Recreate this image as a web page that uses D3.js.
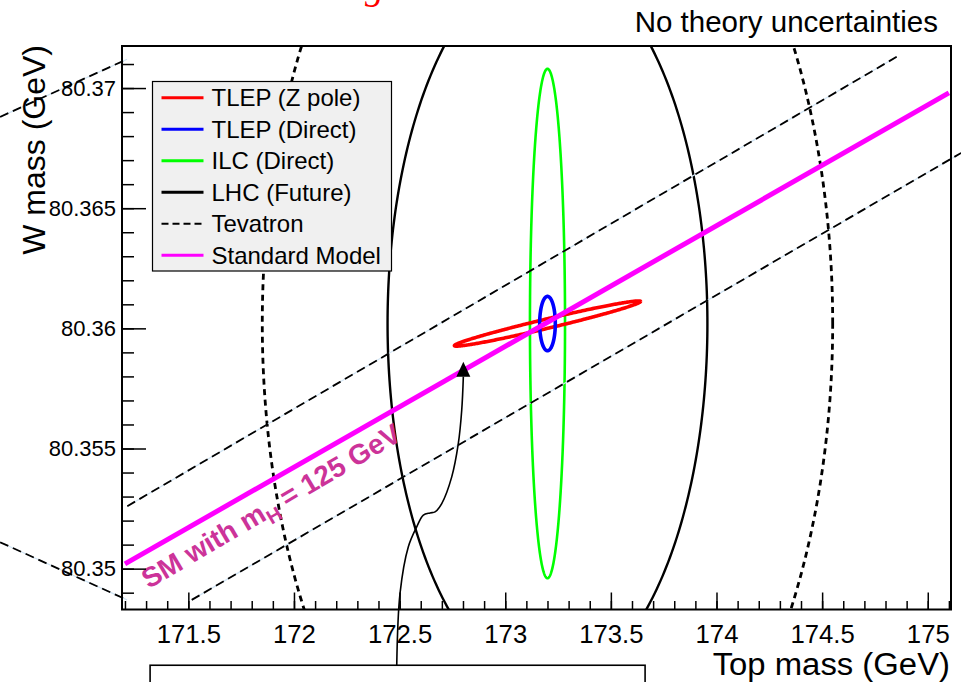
<!DOCTYPE html>
<html>
<head>
<meta charset="utf-8">
<script src="https://cdn.jsdelivr.net/npm/d3@7"></script>
<style>
  body { margin: 0; background: #fff; }
  svg { display: block; }
  text { font-family: "Liberation Sans", Arial, Helvetica, sans-serif; }
</style>
</head>
<body>
<svg id="chart" width="961" height="682"></svg>
<script>
// ---- axis ticks ----
const xMajorTicks = [171.5, 172, 172.5, 173, 173.5, 174, 174.5, 175];
const xTickLabels = ["171.5", "172", "172.5", "173", "173.5", "174", "174.5", "175"];
const yMajorTicks = [80.35, 80.355, 80.36, 80.365, 80.37];
const yTickLabels = ["80.35", "80.355", "80.36", "80.365", "80.37"];

// ---- Standard Model prediction (mH = 125 GeV) ----
const smTop = [171.2, 175.1];
const smW = [80.3502, 80.3698];

// ---- 68% CL contours: centre, half extent in mt and mW, correlation ----
const contourNames = ["Tevatron", "LHC (Future)", "ILC (Direct)", "TLEP (Z pole)", "TLEP (Direct)"];
const contourMt = [173.2, 173.2, 173.2, 173.2, 173.2];
const contourW = [80.3602, 80.3602, 80.3602, 80.3602, 80.3602];
const halfMt = [1.35, 0.757, 0.083, 0.4405, 0.037];
const halfW = [0.0228, 0.01513, 0.0106, 0.00094, 0.00113];
const corr = [0, 0, 0, 0.977, 0];

// ---- dashed band edges ----
const bandUpperMt = [171.211, 174.853];
const bandUpperW = [80.3526, 80.3713];
const bandLowerMt = [171.516, 175.158];
const bandLowerW = [80.3487, 80.3673];
const outerMt = [170.609, 171.21];
const outerUpperW = [80.3688, 80.3712];
const outerLowerW = [80.3511, 80.3487];

// ---- annotation arrow ----
const arrowMt = [172.4865, 172.502, 172.5414, 172.5811, 172.6124, 172.6441, 172.6678, 172.6995, 172.7468, 172.778, 172.7941, 172.8017];
const arrowW = [80.34598, 80.34897, 80.35091, 80.35174, 80.35223, 80.35232, 80.35236, 80.35271, 80.35382, 80.35521, 80.3566, 80.35799];
const arrowTip = [172.8017, 80.35861];
const noteBoxMt = [171.319, 173.662];
const noteBoxW = 80.34598;

// ---- legend ----
const legendLabels = ["TLEP (Z pole)", "TLEP (Direct)", "ILC (Direct)", "LHC (Future)", "Tevatron", "Standard Model"];

const svg = d3.select("#chart");
const frameL = 122, frameR = 951, frameT = 46, frameB = 609.5;

const x = d3.scaleLinear().domain([171.186, 175.11]).range([frameL, frameR]);
const y = d3.scaleLinear().domain([80.3483, 80.37175]).range([frameB, frameT]);

svg.append("defs").append("clipPath").attr("id", "plotArea")
  .append("rect").attr("x", frameL).attr("y", frameT)
  .attr("width", frameR - frameL).attr("height", frameB - frameT);

const line = d3.line().x(d => x(d[0])).y(d => y(d[1]));

// red header text above the figure (only its descender reaches the view)
const header = svg.append("text")
  .attr("y", -1.5)
  .attr("fill", "#ff0000")
  .style("font-family", "'Liberation Serif', 'DejaVu Serif', serif")
  .style("font-style", "italic")
  .style("font-size", "38px")
  .text("Work in Progress");
const gOffset = header.node().getSubStringLength(0, 11);
header.attr("x", 365 - gOffset);

// top-right caption
svg.append("text")
  .attr("x", 938).attr("y", 32)
  .attr("text-anchor", "end")
  .style("font-size", "29.5px")
  .text("No theory uncertainties");

// contour helper
function contour(i) {
  const r = corr[i], s = Math.sqrt(1 - r * r);
  return d3.range(0, 361).map(k => {
    const t = k * Math.PI / 180;
    return [contourMt[i] + halfMt[i] * Math.cos(t),
            contourW[i] + halfW[i] * (r * Math.cos(t) + s * Math.sin(t))];
  });
}

const plot = svg.append("g").attr("clip-path", "url(#plotArea)");

// Tevatron (dashed)
plot.append("path").attr("d", line(contour(0)))
  .attr("fill", "none").attr("stroke", "#000").attr("stroke-width", 2.8)
  .attr("stroke-dasharray", "6,4.5");

// LHC
plot.append("path").attr("d", line(contour(1)))
  .attr("fill", "none").attr("stroke", "#000").attr("stroke-width", 2.4);

// dashed band edges with faint underlay
const bandSegs = [
  d3.zip(bandUpperMt, bandUpperW),
  d3.zip(bandLowerMt, bandLowerW),
  d3.zip(outerMt, outerUpperW),
  d3.zip(outerMt, outerLowerW)
];
const bandG = svg.append("g");
bandSegs.forEach(seg => {
  bandG.append("path").attr("d", line(seg))
    .attr("fill", "none").attr("stroke", "#cfe3f3").attr("stroke-width", 1.2);
  bandG.append("path").attr("d", line(seg))
    .attr("fill", "none").attr("stroke", "#000").attr("stroke-width", 1.8)
    .attr("stroke-dasharray", "9,5");
});

// Standard Model line
svg.append("path").attr("d", line(d3.zip(smTop, smW)))
  .attr("fill", "none").attr("stroke", "#ff00ff").attr("stroke-width", 5);

// ILC, TLEP Z pole, TLEP direct
plot.append("path").attr("d", line(contour(2)))
  .attr("fill", "none").attr("stroke", "#00ff00").attr("stroke-width", 2.6);
plot.append("path").attr("d", line(contour(3)))
  .attr("fill", "none").attr("stroke", "#ff0000").attr("stroke-width", 3.6);
plot.append("path").attr("d", line(contour(4)))
  .attr("fill", "none").attr("stroke", "#0000ff").attr("stroke-width", 3.6);

// SM label along the line
const p0 = [x(smTop[0]), y(smW[0])], p1 = [x(smTop[1]), y(smW[1])];
const angle = Math.atan2(p1[1] - p0[1], p1[0] - p0[0]) * 180 / Math.PI;
const labelMt = 171.21;
const lx = x(labelMt), ly = y(d3.scaleLinear().domain(smTop).range(smW)(labelMt));
const smLabel = svg.append("text")
  .attr("transform", `translate(${lx},${ly}) rotate(${angle - 0.8})`)
  .attr("x", 5).attr("y", 34)
  .attr("fill", "#cc3399")
  .style("font-size", "28px").style("font-weight", "bold");
smLabel.append("tspan").text("SM with m");
smLabel.append("tspan").attr("dy", 7).style("font-size", "20px").text("H");
smLabel.append("tspan").attr("dy", -7).text(" = 125 GeV");

// axes
const xAxis = svg.append("g").attr("transform", `translate(0,${frameB})`)
  .call(d3.axisBottom(x).tickValues(xMajorTicks).tickSize(-17).tickSizeOuter(0)
    .tickPadding(15).tickFormat((d, i) => xTickLabels[i]));
const xMinor = svg.append("g").attr("transform", `translate(0,${frameB})`)
  .call(d3.axisBottom(x).tickValues(d3.range(1712, 1752).map(v => v / 10))
    .tickSize(-8.5).tickSizeOuter(0).tickFormat(""));
const yAxis = svg.append("g").attr("transform", `translate(${frameL},0)`)
  .call(d3.axisLeft(y).tickValues(yMajorTicks).tickSize(-24).tickSizeOuter(0)
    .tickPadding(6).tickFormat((d, i) => yTickLabels[i]));
const yMinor = svg.append("g").attr("transform", `translate(${frameL},0)`)
  .call(d3.axisLeft(y).tickValues(d3.range(80349, 80372).map(v => v / 1000))
    .tickSize(-12).tickSizeOuter(0).tickFormat(""));

[xAxis, xMinor, yAxis, yMinor].forEach(g => {
  g.select(".domain").remove();
  g.selectAll(".tick line").attr("stroke", "#000").attr("stroke-width", 1.5);
  g.selectAll(".tick text").attr("fill", "#000").style("font-family", "'Liberation Sans', Arial, sans-serif");
});
xAxis.selectAll(".tick text").style("font-size", "25.7px");
yAxis.selectAll(".tick text").style("font-size", "22px");

// frame
svg.append("rect").attr("x", frameL).attr("y", frameT)
  .attr("width", frameR - frameL).attr("height", frameB - frameT)
  .attr("fill", "none").attr("stroke", "#000").attr("stroke-width", 2);

// axis titles
svg.append("text").attr("transform", "translate(950,675) scale(1.06,1)").attr("text-anchor", "end")
  .style("font-size", "31px").text("Top mass (GeV)");
svg.append("text").attr("transform", "translate(45,45) rotate(-90)")
  .attr("text-anchor", "end").style("font-size", "32px").text("W mass (GeV)");

// legend
const legend = svg.append("g");
legend.append("rect").attr("x", 152.5).attr("y", 81.5).attr("width", 239).attr("height", 189.5)
  .attr("fill", "#f0f0f0").attr("stroke", "#000").attr("stroke-width", 1.2);
const legendColors = ["#ff0000", "#0000ff", "#00ff00", "#000000", "#000000", "#ff00ff"];
legendLabels.forEach((lab, i) => {
  const cy = 97.7 + i * 31.5;
  legend.append("line").attr("x1", 161.5).attr("x2", 203.5).attr("y1", cy).attr("y2", cy)
    .attr("stroke", legendColors[i]).attr("stroke-width", i === 4 ? 2 : 3)
    .attr("stroke-dasharray", i === 4 ? "7,4" : null);
  legend.append("text").attr("x", 211.5).attr("y", cy + 8.5)
    .style("font-size", "24px").text(lab);
});

// annotation arrow and note box
svg.append("path").attr("d", d3.line().curve(d3.curveCatmullRom)
    .x(d => x(d[0])).y(d => y(d[1]))(d3.zip(arrowMt, arrowW)))
  .attr("fill", "none").attr("stroke", "#000").attr("stroke-width", 1.6);
const tx = x(arrowTip[0]), ty = y(arrowTip[1]);
svg.append("path").attr("d", `M${tx},${ty}L${tx - 7},${ty + 15}L${tx + 7},${ty + 15}Z`).attr("fill", "#000");
svg.append("rect").attr("x", x(noteBoxMt[0])).attr("y", y(noteBoxW))
  .attr("width", x(noteBoxMt[1]) - x(noteBoxMt[0])).attr("height", 40)
  .attr("fill", "#fff").attr("stroke", "#000").attr("stroke-width", 1.6);
</script>
</body>
</html>
